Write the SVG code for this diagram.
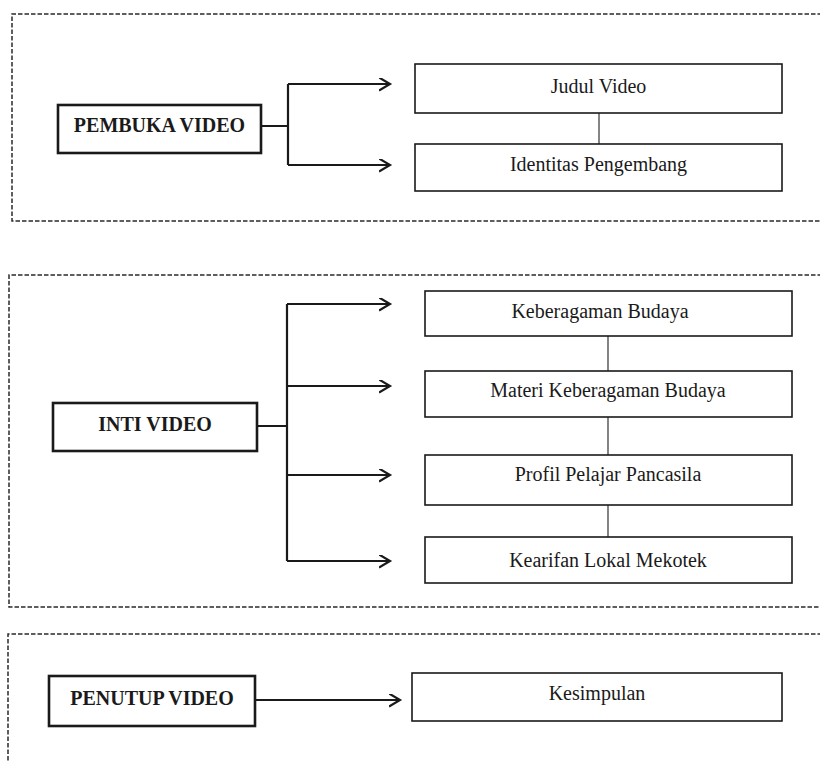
<svg xmlns="http://www.w3.org/2000/svg" width="820" height="762" viewBox="0 0 820 762">
<defs>
<style>
.sec{fill:none;stroke:#2a2a2a;stroke-width:1.5;stroke-dasharray:4.5 2}
.main{fill:#fff;stroke:#1a1a1a;stroke-width:2.6}
.sub{fill:#fff;stroke:#1a1a1a;stroke-width:1.6}
.mt{font-family:"Liberation Serif","Times New Roman",serif;font-size:20px;font-weight:bold;fill:#1a1a1a;text-anchor:middle}
.st{font-family:"Liberation Serif","Times New Roman",serif;font-size:20px;fill:#1a1a1a;text-anchor:middle}
.arr{fill:none;stroke:#1a1a1a;stroke-width:2.2;marker-end:url(#ah)}
.ln{fill:none;stroke:#1a1a1a;stroke-width:2.2}
.thin{fill:none;stroke:#333;stroke-width:1.2}
</style>
<marker id="ah" markerUnits="userSpaceOnUse" markerWidth="14" markerHeight="16" refX="11" refY="6.5" orient="auto">
<path d="M0,0 L11,6.5 L0,13" fill="none" stroke="#1a1a1a" stroke-width="2.2"/>
</marker>
</defs>
<rect width="820" height="762" fill="#fff"/>
<g id="sections">
<path class="sec" d="M822,14 H12 V221 H822"/>
<path class="sec" d="M822,275 H9 V607 H822"/>
<path class="sec" d="M822,634 H8 V764"/>
</g>
<g id="connectors">
<path class="ln" d="M261,126 H288 M288,84 V165"/>
<path class="arr" d="M288,84 H390"/>
<path class="arr" d="M288,165 H390"/>
<path class="thin" d="M599,113 V144"/>
<path class="ln" d="M257,426 H287 M287,304 V561"/>
<path class="arr" d="M287,304 H390"/>
<path class="arr" d="M287,386 H390"/>
<path class="arr" d="M287,475 H390"/>
<path class="arr" d="M287,561 H390"/>
<path class="thin" d="M608,336 V371 M608,417 V455 M608,505 V537"/>
<path class="arr" d="M255,700 H400"/>
</g>
<g id="pembuka">
<rect class="main" x="58" y="105" width="203" height="48"/>
<text class="mt" x="159.5" y="132">PEMBUKA VIDEO</text>
</g>
<g id="judul">
<rect class="sub" x="415" y="64" width="367" height="49"/>
<text class="st" x="598.5" y="93">Judul Video</text>
</g>
<g id="identitas">
<rect class="sub" x="415" y="144" width="367" height="47"/>
<text class="st" x="598.5" y="171">Identitas Pengembang</text>
</g>
<g id="inti">
<rect class="main" x="53" y="403" width="204" height="48"/>
<text class="mt" x="155" y="431">INTI VIDEO</text>
</g>
<g id="keberagaman">
<rect class="sub" x="425" y="291" width="367" height="45"/>
<text class="st" x="600" y="318">Keberagaman Budaya</text>
</g>
<g id="materi">
<rect class="sub" x="425" y="371" width="367" height="46"/>
<text class="st" x="608" y="397">Materi Keberagaman Budaya</text>
</g>
<g id="profil">
<rect class="sub" x="425" y="455" width="367" height="50"/>
<text class="st" x="608" y="481">Profil Pelajar Pancasila</text>
</g>
<g id="kearifan">
<rect class="sub" x="425" y="537" width="367" height="46"/>
<text class="st" x="608" y="567">Kearifan Lokal Mekotek</text>
</g>
<g id="penutup">
<rect class="main" x="49" y="676" width="206" height="50"/>
<text class="mt" x="152" y="705">PENUTUP VIDEO</text>
</g>
<g id="kesimpulan">
<rect class="sub" x="412" y="673" width="370" height="48"/>
<text class="st" x="597" y="700">Kesimpulan</text>
</g>
</svg>
